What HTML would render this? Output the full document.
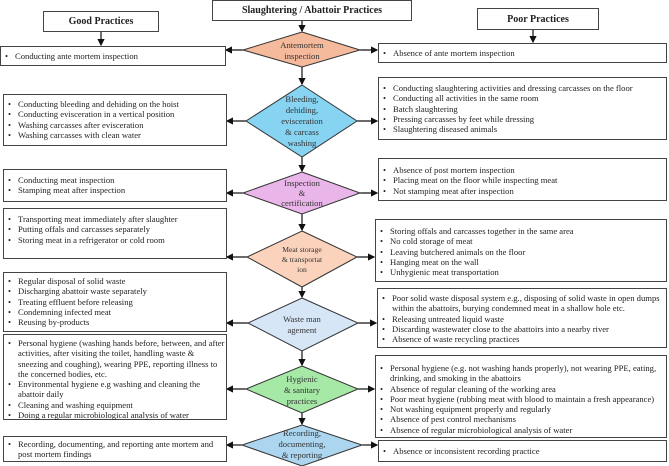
<!DOCTYPE html>
<html><head><meta charset="utf-8"><style>
html,body{margin:0;padding:0;background:#fff;}
#c{position:relative;width:669px;height:466px;overflow:hidden;font-family:"Liberation Serif",serif;color:#222;}
.b{position:absolute;border:1px solid #444;box-sizing:border-box;background:#fff;font-size:8.6px;line-height:10.3px;}
.b ul{margin:0;padding:0 0 0 14px;list-style:none;}
.b li{position:relative;}
.b li:before{content:"•";position:absolute;left:-10px;}
.h{position:absolute;border:1px solid #444;box-sizing:border-box;background:#fff;font-weight:bold;font-size:10px;display:flex;align-items:center;justify-content:center;}
svg{position:absolute;left:0;top:0;}
svg text{font-family:"Liberation Serif",serif;font-size:8.6px;fill:#333;text-anchor:middle;}
</style></head><body><div id="c">
<svg width="669" height="466">
<defs><marker id="a" markerWidth="6" markerHeight="6" refX="5" refY="3" orient="auto"><path d="M0,0L6,3L0,6z" fill="#111"/></marker></defs>
<g stroke="#111" stroke-width="1.2" fill="none">
<line x1="101" y1="32" x2="101" y2="45" marker-end="url(#a)"/>
<line x1="302" y1="21" x2="302" y2="31" marker-end="url(#a)"/>
<line x1="533" y1="30" x2="533" y2="42" marker-end="url(#a)"/>
<line x1="302" y1="67" x2="302" y2="84" marker-end="url(#a)"/>
<line x1="302" y1="157" x2="302" y2="171" marker-end="url(#a)"/>
<line x1="302" y1="214" x2="302" y2="230" marker-end="url(#a)"/>
<line x1="302" y1="287" x2="302" y2="297" marker-end="url(#a)"/>
<line x1="302" y1="351" x2="302" y2="365" marker-end="url(#a)"/>
<line x1="302" y1="413" x2="302" y2="424" marker-end="url(#a)"/>
<line x1="243" y1="50" x2="226" y2="50" marker-end="url(#a)"/><line x1="360" y1="50" x2="377" y2="50" marker-end="url(#a)"/>
<line x1="246" y1="121" x2="227" y2="121" marker-end="url(#a)"/><line x1="357" y1="121" x2="377" y2="121" marker-end="url(#a)"/>
<line x1="243" y1="193" x2="227" y2="193" marker-end="url(#a)"/><line x1="360" y1="193" x2="377" y2="193" marker-end="url(#a)"/>
<line x1="247" y1="257" x2="227" y2="257" marker-end="url(#a)"/><line x1="357" y1="257" x2="374" y2="257" marker-end="url(#a)"/>
<line x1="248" y1="323" x2="227" y2="323" marker-end="url(#a)"/><line x1="358" y1="323" x2="376" y2="323" marker-end="url(#a)"/>
<line x1="246" y1="389" x2="227" y2="389" marker-end="url(#a)"/><line x1="358" y1="389" x2="374" y2="389" marker-end="url(#a)"/>
<line x1="242" y1="445" x2="227" y2="445" marker-end="url(#a)"/><line x1="362" y1="445" x2="377" y2="445" marker-end="url(#a)"/>
</g>
<g stroke="#333" stroke-width="1">
<polygon points="302,32 360,50 302,67 243,50" fill="#f5b99c"/>
<polygon points="302,85 357,121 302,157 246,121" fill="#86d3f2"/>
<polygon points="302,172 360,193 302,214 243,193" fill="#eab6ea"/>
<polygon points="302,231 357,257 302,287 247,257" fill="#fbd3bd"/>
<polygon points="302,298 358,323 302,351 248,323" fill="#d6e6f7"/>
<polygon points="302,366 358,389 302,413 246,389" fill="#a6e8a6"/>
<polygon points="302,425 362,445 302,466 242,445" fill="#acd6f0"/>
</g>
<text x="302" y="48">Antemortem</text><text x="302" y="59">inspection</text>
<text x="302" y="102">Bleeding,</text><text x="302" y="113">dehiding,</text><text x="302" y="124">evisceration</text><text x="302" y="135">&amp; carcass</text><text x="302" y="146">washing</text>
<text x="302" y="186">Inspection</text><text x="302" y="196">&amp;</text><text x="302" y="206">certification</text>
<text x="302" y="252" style="font-size:7.6px">Meat storage</text><text x="302" y="262" style="font-size:7.6px">&amp; transportat</text><text x="302" y="272" style="font-size:7.6px">ion</text>
<text x="302" y="322">Waste man</text><text x="302" y="333">agement</text>
<text x="302" y="382">Hygienic</text><text x="302" y="393">&amp; sanitary</text><text x="302" y="404">practices</text>
<text x="302" y="436">Recording,</text><text x="302" y="447">documenting,</text><text x="302" y="458">&amp; reporting</text>
</svg>
<div class="h" style="left:43px;top:11px;width:116px;height:21px;">Good Practices</div>
<div class="h" style="left:212px;top:0;width:200px;height:21px;">Slaughtering / Abattoir Practices</div>
<div class="h" style="left:477px;top:8px;width:122px;height:22px;">Poor Practices</div>

<div class="b" style="left:0;top:46px;width:226px;height:20px;padding-top:4px;"><ul><li>Conducting ante mortem inspection</li></ul></div>
<div class="b" style="left:378px;top:43px;width:289px;height:20px;padding-top:4px;"><ul><li>Absence of ante mortem inspection</li></ul></div>

<div class="b" style="left:3px;top:94px;width:224px;height:52px;padding-top:4px;"><ul><li>Conducting bleeding and dehiding on the hoist</li><li>Conducting evisceration in a vertical position</li><li>Washing carcasses after evisceration</li><li>Washing carcasses with clean water</li></ul></div>
<div class="b" style="left:378px;top:77px;width:289px;height:63px;padding-top:5px;"><ul><li>Conducting slaughtering activities and dressing carcasses on the floor</li><li>Conducting all activities in the same room</li><li>Batch slaughtering</li><li>Pressing carcasses by feet while dressing</li><li>Slaughtering diseased animals</li></ul></div>

<div class="b" style="left:3px;top:169px;width:224px;height:33px;padding-top:5px;"><ul><li>Conducting meat inspection</li><li>Stamping meat after inspection</li></ul></div>
<div class="b" style="left:378px;top:158px;width:289px;height:43px;padding-top:6px;"><ul><li>Absence of post mortem inspection</li><li>Placing meat on the floor while inspecting meat</li><li>Not stamping meat after inspection</li></ul></div>

<div class="b" style="left:3px;top:208px;width:224px;height:51px;padding-top:5px;"><ul><li>Transporting meat immediately after slaughter</li><li>Putting offals and carcasses separately</li><li>Storing meat in a refrigerator or cold room</li></ul></div>
<div class="b" style="left:375px;top:219px;width:292px;height:63px;padding-top:6px;"><ul><li>Storing offals and carcasses together in the same area</li><li>No cold storage of meat</li><li>Leaving butchered animals on the floor</li><li>Hanging meat on the wall</li><li>Unhygienic meat transportation</li></ul></div>

<div class="b" style="left:3px;top:272px;width:224px;height:60px;padding-top:3px;"><ul><li>Regular disposal of solid waste</li><li>Discharging abattoir waste separately</li><li>Treating effluent before releasing</li><li>Condemning infected meat</li><li>Reusing by-products</li></ul></div>
<div class="b" style="left:377px;top:288px;width:290px;height:60px;padding-top:4px;"><ul><li>Poor solid waste disposal system e.g., disposing of solid waste in open dumps within the abattoirs, burying condemned meat in a shallow hole etc.</li><li>Releasing untreated liquid waste</li><li>Discarding wastewater close to the abattoirs into a nearby river</li><li>Absence of waste recycling practices</li></ul></div>

<div class="b" style="left:3px;top:334px;width:224px;height:86px;padding-top:3px;"><ul><li>Personal hygiene (washing hands before, between, and after activities, after visiting the toilet, handling waste &amp; sneezing and coughing), wearing PPE, reporting illness to the concerned bodies, etc.</li><li>Environmental hygiene e.g washing and cleaning the abattoir daily</li><li>Cleaning and washing equipment</li><li>Doing a regular microbiological analysis of water</li></ul></div>
<div class="b" style="left:375px;top:355px;width:292px;height:83px;padding-top:7px;"><ul><li>Personal hygiene (e.g. not washing hands properly), not wearing PPE, eating, drinking, and smoking in the abattoirs</li><li>Absence of regular cleaning of the working area</li><li>Poor meat hygiene (rubbing meat with blood to maintain a fresh appearance)</li><li>Not washing equipment properly and regularly</li><li>Absence of pest control mechanisms</li><li>Absence of regular microbiological analysis of water</li></ul></div>

<div class="b" style="left:3px;top:436px;width:224px;height:26px;padding-top:2px;"><ul><li>Recording, documenting, and reporting ante mortem and post mortem findings</li></ul></div>
<div class="b" style="left:378px;top:440px;width:289px;height:22px;padding-top:5px;"><ul><li>Absence or inconsistent recording practice</li></ul></div>
</div></body></html>
